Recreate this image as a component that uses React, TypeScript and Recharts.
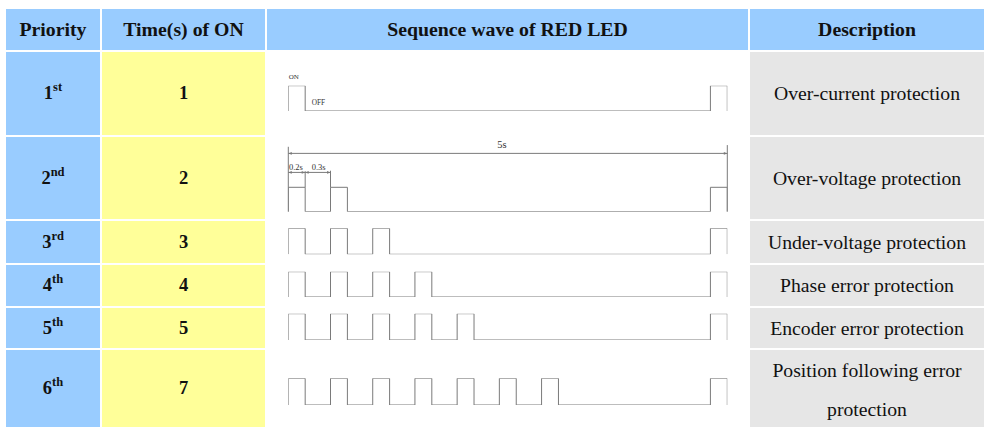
import React from "react";
import { LineChart, Line, XAxis, YAxis, ReferenceLine, ReferenceDot } from "recharts";

// ---------- data ----------
const headers = ["Priority", "Time(s) of ON", "Sequence wave of RED LED", "Description"];
const priorityNumbers = ["1", "2", "3", "4", "5", "6"];
const prioritySuffixes = ["st", "nd", "rd", "th", "th", "th"];
const onTimes = ["1", "2", "3", "4", "5", "7"];
const descriptions = [
  ["Over-current protection"],
  ["Over-voltage protection"],
  ["Under-voltage protection"],
  ["Phase error protection"],
  ["Encoder error protection"],
  ["Position following error", "protection"],
];
// start time (s) of every ON pulse of the red LED, per row
const pulseStarts = [
  [0, 5.0],
  [0, 0.5, 5.0],
  [0, 0.5, 1.0, 5.0],
  [0, 0.5, 1.0, 1.5, 5.0],
  [0, 0.5, 1.0, 1.5, 2.0, 5.0],
  [0, 0.5, 1.0, 1.5, 2.0, 2.5, 3.0, 5.0],
];
const pulseWidth = 0.2; // seconds ON
const timeDomain: [number, number] = [0, 5.2];
// dimension annotations on row 2
const dimSpans = [
  { from: 0, to: 5.2, label: "5s", labelAt: 2.53 },
  { from: 0, to: 0.2, label: "0.2s", labelAt: 0.09 },
  { from: 0.2, to: 0.5, label: "0.3s", labelAt: 0.36 },
];

// ---------- layout / style ----------
const FONT = "'Liberation Serif', 'Times New Roman', serif";
const BLUE = "#99ccff";
const YELLOW = "#ffff99";
const GRAY = "#e6e6e6";
const WAVE = "#7a7a7a";
const cols = [
  { x: 6, w: 94 },
  { x: 102, w: 163 },
  { x: 267, w: 481 },
  { x: 750, w: 234 },
];
const headerRow = { y: 9, h: 41 };
const rows = [
  { y: 52, h: 83, mt: 33.7, mb: 24 },
  { y: 137, h: 82, mt: 1.5, mb: 7.3 },
  { y: 221, h: 42, mt: 7.3, mb: 8.7 },
  { y: 265, h: 41, mt: 6.7, mb: 9 },
  { y: 308, h: 40, mt: 5.7, mb: 8 },
  { y: 350, h: 77, mt: 28.3, mb: 22 },
];
const waveMarginLeft = 21.3;
const waveMarginRight = 20.7;

function buildWave(starts: number[]) {
  const pts: { t: number; v: number }[] = [];
  starts.forEach((s) => {
    const e = Math.round((s + pulseWidth) * 100) / 100;
    pts.push({ t: s, v: 0 }, { t: s, v: 1 }, { t: e, v: 1 }, { t: e, v: 0 });
  });
  return pts;
}

const ArrowLine = (props: any) => {
  const { x1, y1, x2, y2 } = props;
  const a = 3.5;
  const h = 1.3;
  const dir = x2 > x1 ? 1 : -1;
  return (
    <g>
      <line x1={x1} y1={y1} x2={x2} y2={y2} stroke={WAVE} strokeWidth={1} />
      <path d={`M${x1},${y1} l${a * dir},${-h} l0,${2 * h} z`} fill={WAVE} />
      <path d={`M${x2},${y2} l${-a * dir},${-h} l0,${2 * h} z`} fill={WAVE} />
    </g>
  );
};

const cellBase: React.CSSProperties = {
  position: "absolute",
  display: "flex",
  alignItems: "center",
  justifyContent: "center",
  textAlign: "center",
  boxSizing: "border-box",
  fontFamily: FONT,
  color: "#111",
};

function Cell({ col, y, h, bg, children, style }: any) {
  return (
    <div style={{ ...cellBase, left: cols[col].x, width: cols[col].w, top: y, height: h, background: bg, ...style }}>
      {children}
    </div>
  );
}

function WaveChart({ idx }: { idx: number }) {
  const r = rows[idx];
  const data = buildWave(pulseStarts[idx]);
  const isDim = idx === 1;
  const yMax = isDim ? 3 : 1;
  const small = { fontFamily: FONT, fill: "#333" };
  return (
    <div style={{ position: "absolute", left: cols[2].x, top: r.y, width: cols[2].w, height: r.h }}>
      <LineChart
        width={cols[2].w}
        height={r.h}
        data={data}
        margin={{ top: r.mt, bottom: r.mb, left: waveMarginLeft, right: waveMarginRight }}
      >
        <XAxis type="number" dataKey="t" domain={timeDomain} hide allowDataOverflow />
        <YAxis type="number" domain={[0, yMax]} hide width={0} allowDataOverflow />
        {isDim && (
          <>
            <ReferenceLine segment={[{ x: 0, y: 0 }, { x: 0, y: 2.66 }]} stroke={WAVE} ifOverflow="visible" />
            <ReferenceLine segment={[{ x: 5.2, y: 0 }, { x: 5.2, y: 2.73 }]} stroke={WAVE} ifOverflow="visible" />
            <ReferenceLine segment={[{ x: 0.2, y: 1 }, { x: 0.2, y: 1.66 }]} stroke={WAVE} ifOverflow="visible" />
            <ReferenceLine segment={[{ x: 0.5, y: 1 }, { x: 0.5, y: 1.68 }]} stroke={WAVE} ifOverflow="visible" />
            {dimSpans.map((d, i) => {
              const lvl = i === 0 ? 2.39 : 1.61;
              return (
                <ReferenceLine
                  key={"d" + i}
                  segment={[{ x: d.from, y: lvl }, { x: d.to, y: lvl }]}
                  ifOverflow="visible"
                  shape={ArrowLine}
                />
              );
            })}
            {dimSpans.map((d, i) => {
              const lvl = i === 0 ? 2.39 : 1.61;
              return (
                <ReferenceDot
                  key={"l" + i}
                  x={d.labelAt}
                  y={lvl}
                  r={0}
                  fill="none"
                  stroke="none"
                  ifOverflow="visible"
                  label={{ value: d.label, position: "top", offset: i === 0 ? 5 : 2.5, fontSize: i === 0 ? 10.5 : 8.5, ...small }}
                />
              );
            })}
          </>
        )}
        {idx === 0 && (
          <>
            <ReferenceDot x={0.064} y={1} r={0} fill="none" stroke="none" ifOverflow="visible"
              label={{ value: "ON", position: "top", offset: 6.5, fontSize: 7, ...small }} />
            <ReferenceDot x={0.356} y={0} r={0} fill="none" stroke="none" ifOverflow="visible"
              label={{ value: "OFF", position: "top", offset: 6, fontSize: 7.3, ...small }} />
          </>
        )}
        <Line
          type="linear"
          dataKey="v"
          stroke={WAVE}
          strokeWidth={1}
          dot={false}
          activeDot={false}
          isAnimationActive={false}
        />
      </LineChart>
    </div>
  );
}

export default function App() {
  return (
    <div style={{ position: "absolute", left: 0, top: 0, width: 984, height: 427, background: "#fff", overflow: "hidden" }}>
      {headers.map((t, i) => (
        <Cell key={"h" + i} col={i} y={headerRow.y} h={headerRow.h} bg={BLUE} style={{ fontWeight: 700, fontSize: 19.8 }}>
          {t}
        </Cell>
      ))}
      {rows.map((r, i) => (
        <React.Fragment key={"r" + i}>
          <Cell col={0} y={r.y} h={r.h} bg={BLUE} style={{ fontWeight: 700, fontSize: 18.5 }}>
            <span>
              {priorityNumbers[i]}
              <span style={{ fontSize: 12.5, position: "relative", top: -8 }}>{prioritySuffixes[i]}</span>
            </span>
          </Cell>
          <Cell col={1} y={r.y} h={r.h} bg={YELLOW} style={{ fontWeight: 700, fontSize: 18.5 }}>
            {onTimes[i]}
          </Cell>
          <Cell
            col={3}
            y={r.y}
            h={r.h}
            bg={GRAY}
            style={{
              fontSize: 19.7,
              lineHeight: descriptions[i].length > 1 ? "39px" : "normal",
              flexDirection: "column",
              paddingTop: descriptions[i].length > 1 ? 2 : 0,
            }}
          >
            {descriptions[i].map((l, k) => (
              <div key={k}>{l}</div>
            ))}
          </Cell>
          <WaveChart idx={i} />
        </React.Fragment>
      ))}
    </div>
  );
}
